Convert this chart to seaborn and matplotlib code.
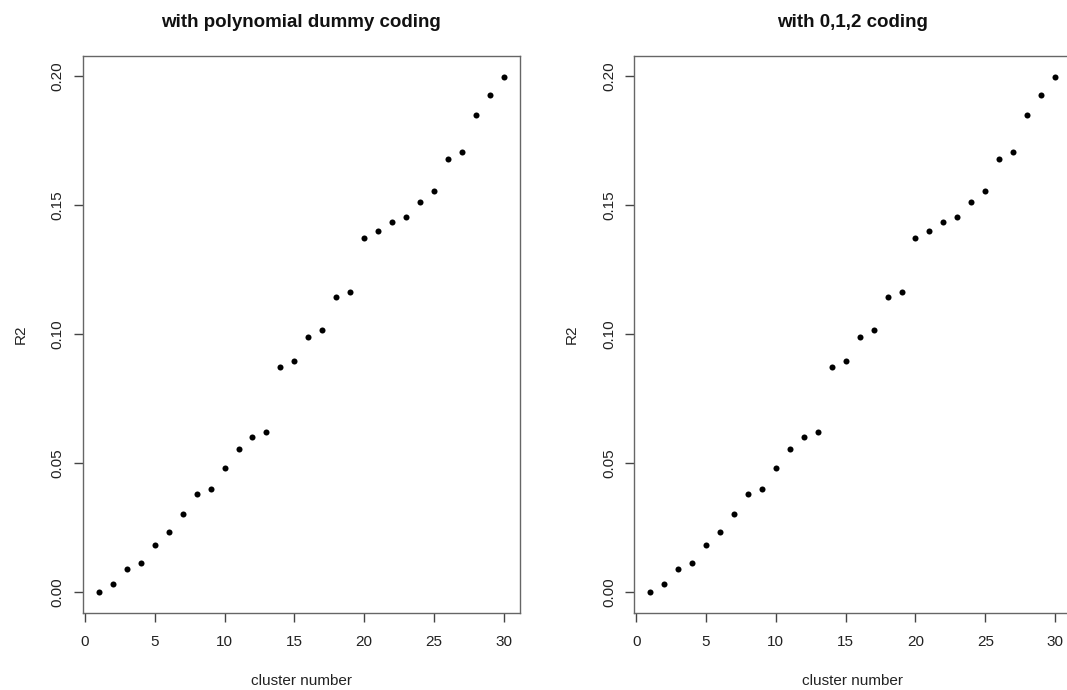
import matplotlib
matplotlib.use("Agg")
import matplotlib.pyplot as plt
import seaborn as sns
import pandas as pd

# Number of clusters included in the model
cluster_number = list(range(1, 31))

# Variance explained (R2) with polynomial dummy coding of genotypes
r2_poly = [0.0000, 0.0034, 0.0090, 0.0114, 0.0182, 0.0235, 0.0304, 0.0380, 0.0400, 0.0482,
           0.0555, 0.0601, 0.0621, 0.0871, 0.0897, 0.0989, 0.1016, 0.1144, 0.1164, 0.1372,
           0.1399, 0.1436, 0.1455, 0.1512, 0.1553, 0.1678, 0.1705, 0.1850, 0.1926, 0.1997]

# Variance explained (R2) with additive 0,1,2 coding
r2_012 = [0.0000, 0.0034, 0.0090, 0.0114, 0.0182, 0.0235, 0.0304, 0.0380, 0.0400, 0.0482,
          0.0555, 0.0601, 0.0621, 0.0871, 0.0897, 0.0989, 0.1016, 0.1144, 0.1164, 0.1372,
          0.1399, 0.1436, 0.1455, 0.1512, 0.1553, 0.1678, 0.1705, 0.1850, 0.1926, 0.1997]

titles = ["with polynomial dummy coding", "with 0,1,2 coding"]
x_ticks = [0, 5, 10, 15, 20, 25, 30]
y_ticks = [0.00, 0.05, 0.10, 0.15, 0.20]
y_tick_labels = ["0.00", "0.05", "0.10", "0.15", "0.20"]

sns.set_style("ticks")
plt.rcParams["font.family"] = ["Liberation Sans", "DejaVu Sans"]

fig = plt.figure(figsize=(10.67, 6.90), dpi=100)
W, H = 1067, 690
panel_w, panel_h = 437.3, 557.0
bottom = (H - 613) / H
lefts = [82.7, 634.0]

frames = [pd.DataFrame({"cluster": cluster_number, "R2": vals}) for vals in (r2_poly, r2_012)]

def padded(lo, hi, frac=0.04):
    d = (hi - lo) * frac
    return lo - d, hi + d

for left, df, title in zip(lefts, frames, titles):
    ax = fig.add_axes([left / W, bottom, panel_w / W, panel_h / H])
    sns.scatterplot(data=df, x="cluster", y="R2", ax=ax, color="black",
                    s=19, linewidth=0, legend=False)
    ax.set_xlim(*padded(min(cluster_number), max(cluster_number)))
    ax.set_ylim(*padded(min(df["R2"]), max(df["R2"])))
    ax.set_xticks(x_ticks)
    ax.set_yticks(y_ticks)
    ax.set_yticklabels(y_tick_labels, rotation=90, va="center")
    ax.tick_params(axis="both", direction="out", length=6.5, width=1.0,
                   color="#444444", labelsize=11, labelcolor="#222222")
    ax.tick_params(axis="x", pad=9)
    ax.tick_params(axis="y", pad=6.5)
    for sp in ax.spines.values():
        sp.set_color("#666666")
        sp.set_linewidth(1.0)
    ax.set_title(title, fontsize=13.5, fontweight="bold", color="#111111", pad=21)
    ax.set_xlabel("cluster number", fontsize=11, color="#222222")
    ax.set_ylabel("R2", fontsize=11, color="#222222")
    ax.xaxis.set_label_coords(0.5, -(674 - 613) / panel_h)
    ax.yaxis.set_label_coords(-55 / panel_w, 0.5)
    ax.grid(False)

fig.savefig("out.png", dpi=100, facecolor="white")
